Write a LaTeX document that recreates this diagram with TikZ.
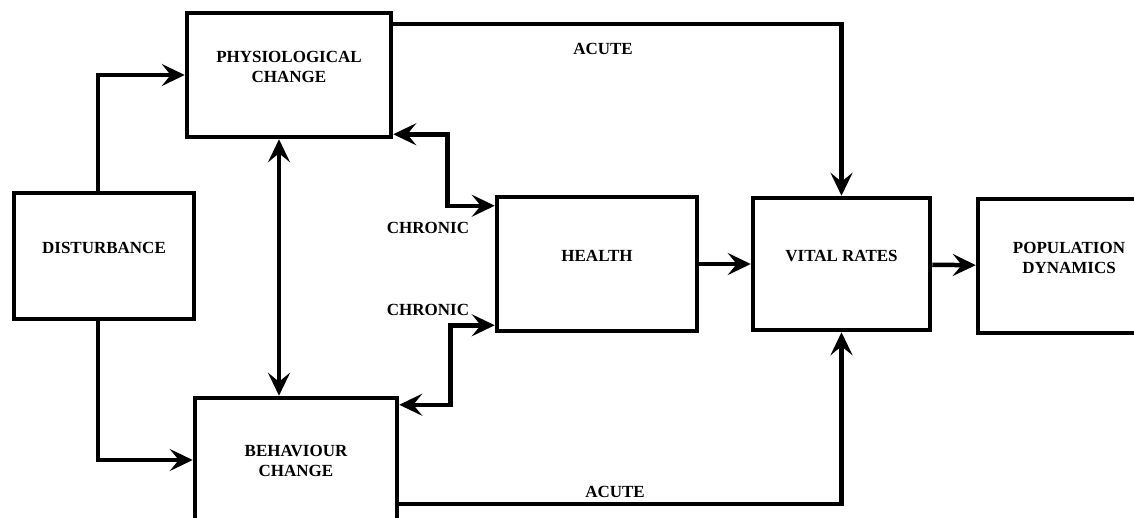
\documentclass[tikz,border=0pt]{standalone}
\usepackage{fontspec}
\setmainfont{Liberation Serif}
\usetikzlibrary{arrows.meta,positioning,calc}
\tikzset{main base/.style={draw,line width=4.5pt,text centered, }, }
\tikzset{main node/.style={rectangle,main base,align=center,
    font=\fontsize{17}{20}\selectfont\bfseries,text depth=16pt}, }
\tikzset{main verb/.style={inner sep=1pt,font=\fontsize{17}{20}\selectfont\bfseries}, }
\tikzset{linea/.style={-{Stealth[length=23pt,width=22pt,inset=9pt]},line width=4.5pt,draw}}
\tikzset{linea2/.style={{Stealth[length=23pt,width=22pt,inset=9pt]}-{Stealth[length=23pt,width=22pt,inset=9pt]},line width=4.5pt,draw}}

\begin{document}
\begin{tikzpicture}[x=1pt,y=-1pt]
  \useasboundingbox (0,0) rectangle (1134,517);
  \clip (0,0) rectangle (1134,517);
  % boxes
  \node[main node,minimum width=180pt,minimum height=126pt] (dist) at (104,256) {DISTURBANCE};
  \node[main node,minimum width=204pt,minimum height=124pt] (phys) at (289,75) {PHYSIOLOGICAL\\CHANGE};
  \node[main node,minimum width=202pt,minimum height=142pt] (behav) at (296,469) {BEHAVIOUR\\CHANGE};
  \node[main node,minimum width=200pt,minimum height=134pt] (health) at (597,264) {HEALTH};
  \node[main node,minimum width=177pt,minimum height=132pt] (vital) at (841.5,264) {VITAL RATES};
  \node[main node,minimum width=182pt,minimum height=134pt] (pop) at (1069,266) {POPULATION\\DYNAMICS};
  % labels
  \node[main verb] (acute1) at (603,49) {ACUTE};
  \node[main verb] (acute2) at (615,492) {ACUTE};
  \node[main verb] (chron1) at (428,228) {CHRONIC};
  \node[main verb] (chron2) at (428,310) {CHRONIC};
  % connectors
  \path[linea] ([xshift=-6pt]dist.north) |- (phys.west);
  \path[linea] ([xshift=-6pt]dist.south) |- ([yshift=9pt]behav.west);
  \path[linea2] ([xshift=-10pt]phys.south) -- ([xshift=-10pt]phys.south |- behav.north);
  \path[linea] ([yshift=-13pt]phys.north east) -| (vital.north);
  \path[linea] (behav.east |- 0,504) -| (vital.south);
  \path[linea2] ([yshift=5pt]phys.south east) -- ++(54,0) |- ([yshift=-11pt]health.north west);
  \path[linea2] ([yshift=-9pt]behav.north east) -- ++(51,0) |- ([yshift=8pt]health.south west);
\foreach \x /\y in{health/vital,vital/pop}
  \path[linea] (\x) edge (\y);
%
\end{tikzpicture}
\end{document}
